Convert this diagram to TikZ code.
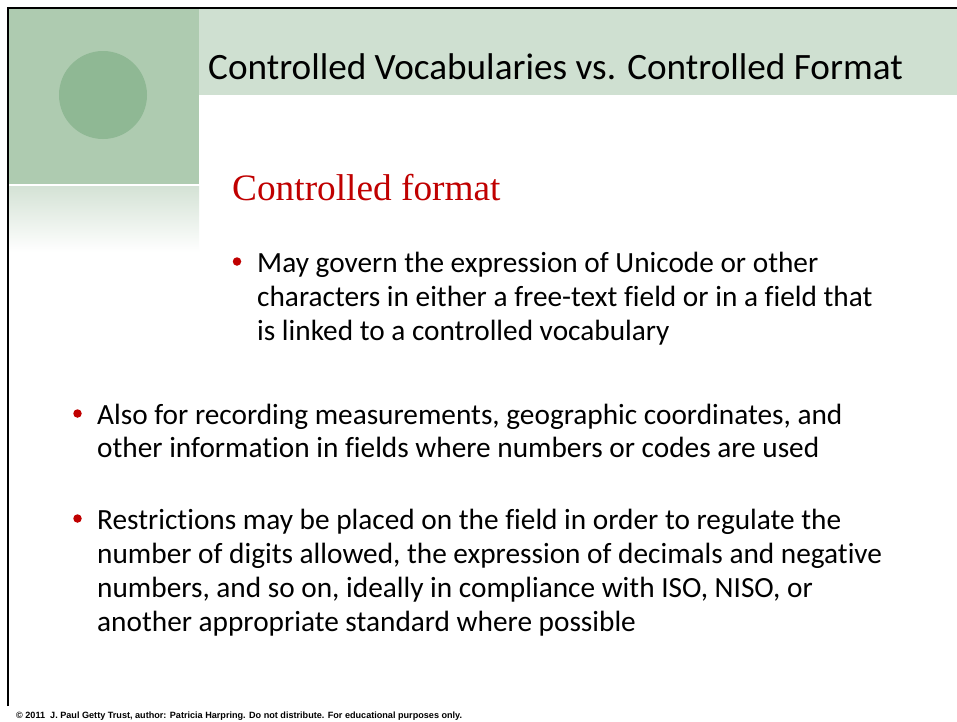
\documentclass[tikz,border=0pt]{standalone}
\usepackage{fontspec}
\setmainfont{Carlito}[Ligatures={NoCommon}]
\newfontfamily\headserif{Liberation Serif}
\newfontfamily\footsans{Liberation Sans}
\definecolor{blockgreen}{RGB}{174,203,176}
\definecolor{bandgreen}{RGB}{207,224,209}
\definecolor{dotgreen}{RGB}{143,184,148}
\definecolor{fadegreen}{RGB}{212,226,213}
\definecolor{slidered}{RGB}{192,0,0}
\begin{document}
\begin{tikzpicture}[x=1pt,y=-1pt,
  bodyline/.style={anchor=base west,inner sep=0pt,font=\fontsize{29.3}{34}\selectfont},
  bulletdot/.style={circle,fill=slidered,inner sep=0pt,minimum size=8.5pt},
  frame/.style={line width=2pt,black}]
\useasboundingbox (0,0) rectangle (957,721);
\fill[white] (0,0) rectangle (957,721);
% title band and corner block
\fill[bandgreen] (199,9) rectangle (957,95);
\fill[blockgreen] (9,9) rectangle (199,184);
\shade[top color=fadegreen,bottom color=white] (9,186) rectangle (199,252);
\fill[dotgreen] (103,95) circle (44);
% frame
\draw[frame] (8,706) -- (8,8) -- (957,8);
% title
\node[anchor=base west,inner sep=0pt,font=\fontsize{37.2}{42}\selectfont] (title) at (208,79) {Controlled Vocabularies vs. Controlled Format};
\node[anchor=base west,inner sep=0pt,font=\headserif\fontsize{37.3}{42}\selectfont,text=slidered] (sub) at (232,200) {Controlled format};
% first bullet (indented)
\node[bulletdot] (b1) at (237,261.5) {};
\node[bodyline] (t1a) at (257,272) {May govern the expression of Unicode or other};
\node[bodyline] (t1b) at (257,306) {characters in either a free-text field or in a field that};
\node[bodyline] (t1c) at (257,340) {is linked to a controlled vocabulary};
% second bullet
\node[bulletdot] (b2) at (77.5,413.5) {};
\node[bodyline] (t2a) at (97,424) {Also for recording measurements, geographic coordinates, and};
\node[bodyline] (t2b) at (97,457) {other information in fields where numbers or codes are used};
% third bullet
\node[bulletdot] (b3) at (77.5,518.5) {};
\node[bodyline] (t3a) at (97,529) {Restrictions may be placed on the field in order to regulate the};
\node[bodyline] (t3b) at (97,563) {number of digits allowed, the expression of decimals and negative};
\node[bodyline] (t3c) at (97,597) {numbers, and so on, ideally in compliance with ISO, NISO, or};
\node[bodyline] (t3d) at (97,631) {another appropriate standard where possible};
% footer
\node[anchor=base west,inner sep=0pt,font=\footsans\bfseries\fontsize{9.1}{11}\selectfont] (foot) at (16,718) {© 2011\ \ J. Paul Getty Trust, author: Patricia Harpring. Do not distribute. For educational purposes only.};
\end{tikzpicture}
\end{document}
